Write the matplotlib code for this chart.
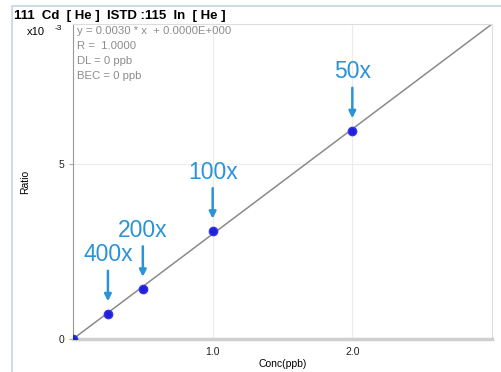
import matplotlib
matplotlib.use('Agg')
import matplotlib.pyplot as plt
from matplotlib.patches import Rectangle

plt.rcParams['font.family'] = ['Liberation Sans', 'DejaVu Sans']

# ---- Data
conc = [0.0, 0.25, 0.5, 1.0, 2.0]           # ppb
ratio = [0.0, 0.72, 1.42, 3.08, 5.95]        # x10^-3
labels = ['', '400x', '200x', '100x', '50x']
fit_x = [0.0, 3.0]
fit_y = [0.0, 9.0]

blue = '#2b93d6'
W, H = 501, 372

fig = plt.figure(figsize=(5.01, 3.72), dpi=100)
ax = fig.add_axes([73 / W, 33 / H, 419 / W, 315 / H])

# Outer frame of the panel.
fig.patches.append(Rectangle((12 / W, -0.01), 1.0, (366 / H) + 0.01,
                             transform=fig.transFigure, fill=False,
                             ec='#c4d6e6', lw=1.2, zorder=0))

ax.plot(fit_x, fit_y, color='#8a8a8a', lw=1.1, zorder=2)
ax.plot(conc, ratio, 'o', color='#2020d8', ms=6, mec='#3535ee', zorder=3)

# Dilution labels and arrows.
for x, y, lab in zip(conc, ratio, labels):
    if not lab:
        continue
    ax.annotate(lab, xy=(x, y), xytext=(0, 59), textcoords='offset pixels',
                ha='center', va='center', fontsize=16.5, color=blue)
    ax.annotate('', xy=(x, y), xytext=(0, 43), textcoords='offset pixels',
                arrowprops=dict(arrowstyle='-|>', color=blue, lw=1.8,
                                mutation_scale=10, shrinkA=0, shrinkB=9))

ax.set_xlim(0, 3.0)
ax.set_ylim(0, 9.0)
ax.set_xticks([1.0, 2.0])
ax.set_xticklabels(['1.0', '2.0'])
ax.set_yticks([0, 5])
ax.set_yticklabels(['0', '5'])
ax.tick_params(axis='both', labelsize=7.5, length=3, color='#aaaaaa',
               labelcolor='#222222', pad=3)
ax.tick_params(axis='x', length=0, pad=6)
ax.grid(True, color='#ececec', lw=0.8)
ax.set_axisbelow(True)

for side in ['top', 'right']:
    ax.spines[side].set_color('#dddddd')
ax.spines['left'].set_color('#999999')
ax.spines['bottom'].set_color('#cfcfcf')
ax.spines['bottom'].set_linewidth(2.5)

ax.set_xlabel('Conc(ppb)', fontsize=7.5, labelpad=1)
ax.set_ylabel('Ratio', fontsize=7.5, labelpad=21)

# Header and scale text.
fig.text(14 / W, 1 - 16 / H, '111  Cd  [ He ]  ISTD :115  In  [ He ]',
         fontsize=9.5, fontweight='bold', va='center', ha='left')
fig.text(27 / W, 1 - 32 / H, 'x10', fontsize=8, va='center', ha='left')
fig.text(55 / W, 1 - 28 / H, '-3', fontsize=6, va='center', ha='left')

info = ['y = 0.0030 * x  + 0.0000E+000', 'R =  1.0000',
        'DL = 0 ppb', 'BEC = 0 ppb']
for i, line in enumerate(info):
    fig.text(77 / W, 1 - (31 + i * 15) / H, line, fontsize=8.2,
             color='#8c8c8c', va='center', ha='left')

fig.savefig('out.png', dpi=100)
